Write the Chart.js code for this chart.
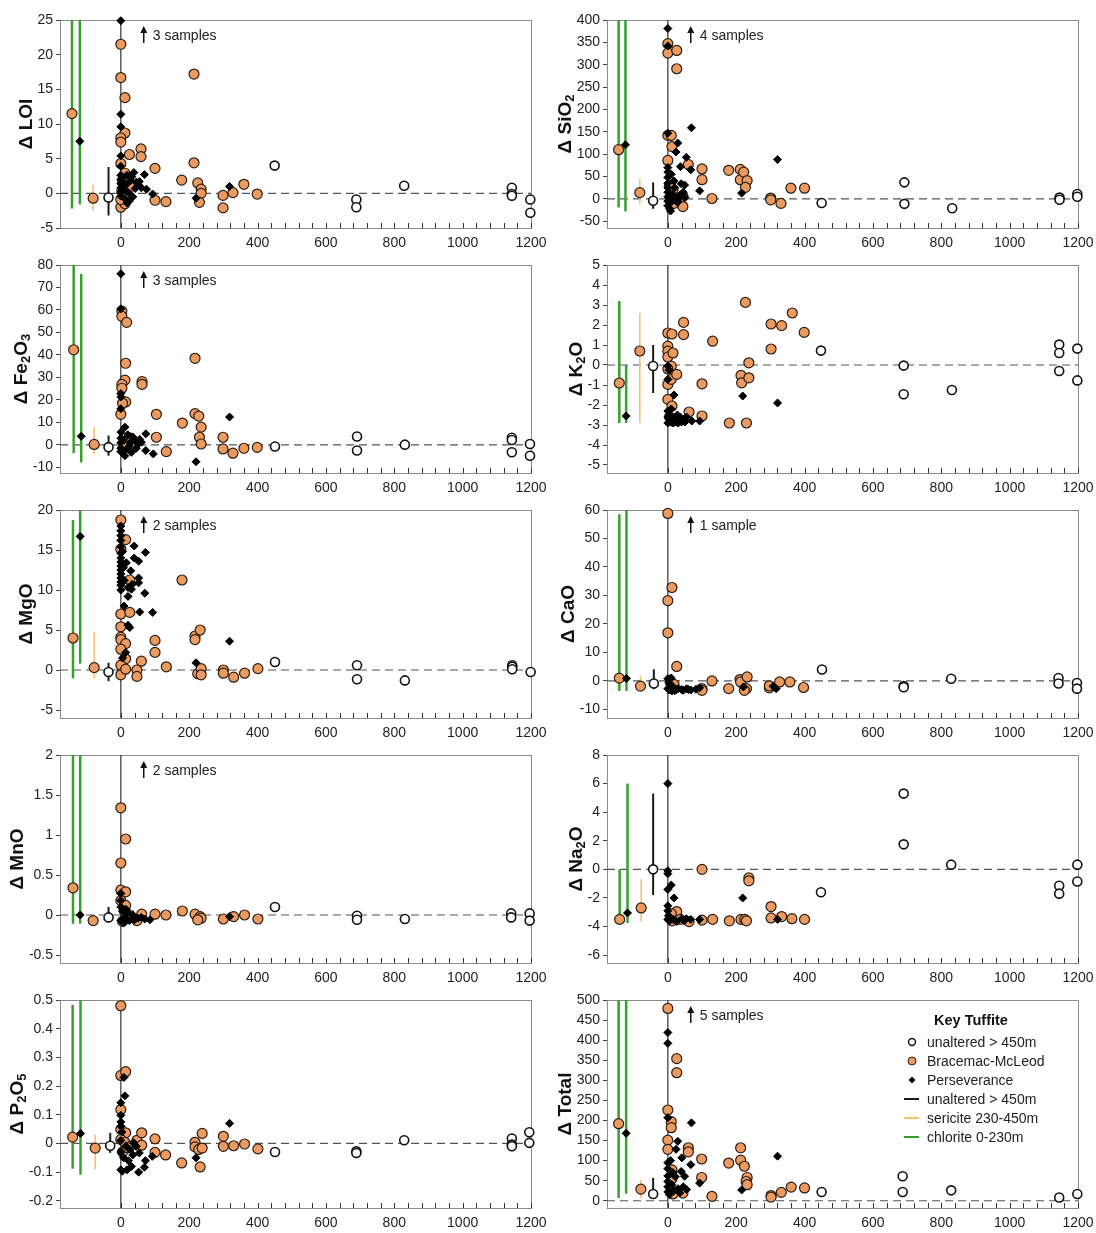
<!DOCTYPE html>
<html>
<head>
<meta charset="utf-8">
<title>Mass change vs distance</title>
<script src="https://cdn.jsdelivr.net/npm/chart.js@4.4.1/dist/chart.umd.min.js"></script>
<style>
    body { margin: 0; background: #fff; }
    #figure { position: relative; width: 1096px; height: 1233px; }
    #figure canvas { position: absolute; }
</style>
</head>
<body>
<div id="figure"></div>
<script>
// Distance axis (m) shared by every panel
const distanceTicks = [0, 200, 400, 600, 800, 1000, 1200];
const distanceMin = -178;
const distanceMax = 1200;
const noteDistance = 67;

// ---- LOI ----
const loiTicks = [-5, 0, 5, 10, 15, 20, 25];
const loiUnaltered = [[-36, -0.6], [450, 4.0], [689, -0.9], [689, -2.0], [829, 1.1], [1144, 0.8], [1144, -0.1], [1144, -0.35], [1198, -0.9], [1198, -2.8]];
const loiBracemac = [[-143, 11.5], [-81, -0.7], [0, 21.5], [0, 16.7], [12, 13.8], [12, 8.7], [0, 8.0], [0, 7.4], [0, 4.3], [25, 5.6], [59, 6.4], [59, 5.3], [100, 3.6], [100, -1.0], [132, -1.2], [178, 1.9], [214, 17.2], [214, 4.4], [225, 1.5], [235, 0.6], [235, 0.0], [230, -1.3], [299, -0.3], [299, -2.1], [328, 0.1], [360, 1.3], [399, -0.1], [0, -2.0], [12, -1.5], [0, -0.9], [12, 2.9], [5, 1.8], [8, 0.8], [20, 2.2], [30, 1.0], [15, -0.3], [3, 0.3]];
const loiPerseverance = [[-120, 7.5], [0, 24.9], [0, 11.4], [0, 9.6], [0, 5.4], [0, 3.9], [0, 2.6], [0, 2.0], [0, 1.4], [0, 0.8], [0, 0.2], [0, -0.4], [5, 2.3], [8, 1.6], [10, 0.5], [15, 1.2], [18, 2.6], [22, 0.1], [25, -1.1], [28, 1.8], [32, 2.4], [38, 3.0], [42, 0.7], [45, 1.6], [50, 1.2], [54, 1.7], [60, 0.8], [69, 2.7], [75, 0.6], [93, -0.1], [220, -0.7], [318, 1.0], [12, -0.8], [35, -0.5], [18, -1.4]];
const loiRanges = { chlorite: [[-143, -2.2, 30], [-120, -1.6, 30]], sericite: [[-81, -2.5, 1.2]], unaltered: [[-36, -3.2, 3.8]] };

// ---- SiO2 ----
const sio2Ticks = [-50, 0, 50, 100, 150, 200, 250, 300, 350, 400];
const sio2Unaltered = [[-43, -4], [450, -9], [692, 37], [692, -11], [832, -21], [1146, 3], [1146, -2], [1198, 11], [1198, 5]];
const sio2Bracemac = [[-144, 110], [-82, 14], [0, 347], [0, 326], [26, 332], [26, 291], [0, 142], [10, 142], [12, 117], [0, 86], [60, 77], [100, 67], [100, 43], [178, 64], [212, 66], [212, 43], [222, 60], [232, 41], [227, 26], [301, 2], [301, -2], [331, -10], [360, 24], [400, 24], [129, 1], [44, -17], [44, 6], [15, 20], [10, -8], [18, -10], [5, 30]];
const sio2Perseverance = [[-124, 121], [0, 381], [0, 342], [69, 159], [29, 125], [24, 105], [54, 93], [321, 88], [37, 72], [67, 65], [39, 34], [49, 31], [93, 18], [216, 13], [0, 147], [0, 70], [0, 60], [0, 48], [0, 35], [0, 25], [0, 15], [0, 5], [0, -5], [0, -15], [5, -22], [8, -27], [12, -5], [15, 10], [20, 25], [25, -2], [30, 0], [35, 8], [45, 15], [50, 3], [18, 40], [10, 55], [28, -8]];
const sio2Ranges = { chlorite: [[-144, -19, 450], [-124, -28, 450]], sericite: [[-82, -11, 45]], unaltered: [[-43, -22, 37]] };

// ---- Fe2O3 ----
const fe2o3Ticks = [-10, 0, 10, 20, 30, 40, 50, 60, 70, 80];
const fe2o3Unaltered = [[-36, -1], [451, -0.7], [691, 3.7], [691, -2.5], [831, 0.1], [1144, 3.2], [1144, 2.2], [1144, -3.3], [1197, 0.4], [1197, -4.8]];
const fe2o3Bracemac = [[-138, 42.3], [-78, 0.2], [3, 59.5], [3, 57.2], [17, 54.5], [14, 36.3], [12, 28.8], [3, 26.9], [3, 25.2], [14, 19.1], [0, 13.6], [62, 28.1], [62, 26.9], [104, 13.6], [104, 3.4], [133, -3], [180, 9.7], [217, 13.9], [217, 38.5], [228, 12.8], [230, 3.4], [235, 7.9], [235, 0.4], [299, 3.4], [299, -1.8], [328, -3.7], [360, -1.5], [399, -1.1], [26, 3.1], [12, 1.6], [5, 18.5], [8, -1.0]];
const fe2o3Perseverance = [[-116, 3.8], [0, 76.1], [0, 60.5], [0, 22.8], [0, 21.3], [0, 16.1], [0, 5.7], [0, 3.0], [0, 1.0], [0, -1.5], [0, -3], [12, 7.9], [73, 4.9], [73, -2.5], [95, -4], [12, -4.8], [318, 12.4], [220, -7.5], [31, -3.3], [40, 2.0], [50, 0.3], [60, 1.2], [25, -0.5], [20, 4.5], [35, 3.5], [45, -1.5], [55, 2.5], [8, 2.2], [16, -2], [28, 1]];
const fe2o3Ranges = { chlorite: [[-138, -3.7, 90], [-116, -7.8, 76]], sericite: [[-78, -4, 8]], unaltered: [[-36, -4.8, 4.2]] };

// ---- K2O ----
const k2oTicks = [-5, -4, -3, -2, -1, 0, 1, 2, 3, 4, 5];
const k2oUnaltered = [[-43, -0.05], [448, 0.72], [690, -0.03], [690, -1.46], [831, -1.25], [1145, 1.02], [1145, 0.6], [1145, -0.3], [1198, 0.82], [1198, -0.77]];
const k2oBracemac = [[-142, -0.9], [-82, 0.7], [0, 1.6], [12, 1.55], [0, 0.94], [0, 0.69], [0, 0.4], [15, 0.6], [10, -0.06], [0, -0.2], [0, -0.97], [10, -0.72], [26, -0.47], [46, 2.13], [46, 1.52], [131, 1.19], [100, -0.94], [100, -2.55], [62, -2.35], [0, -1.72], [12, -2.05], [180, -2.9], [227, 3.13], [214, -0.52], [216, -0.89], [237, 0.11], [237, -0.64], [230, -2.9], [302, 2.05], [302, 0.8], [333, 1.97], [364, 2.6], [399, 1.63], [5, -2.6], [15, -2.8]];
const k2oPerseverance = [[-122, -2.55], [0, -0.05], [3, -0.25], [0, -0.72], [18, -1.5], [219, -1.55], [321, -1.9], [70, -2.8], [93, -2.8], [36, -2.6], [0, -2.3], [0, -2.6], [0, -2.9], [5, -2.5], [8, -2.85], [12, -2.7], [15, -2.9], [20, -2.6], [22, -2.85], [25, -2.75], [30, -2.9], [40, -2.85], [45, -2.7], [50, -2.85], [55, -2.6], [10, -2.2], [28, -2.5]];
const k2oRanges = { chlorite: [[-142, -2.9, 3.2], [-122, -2.9, 0]], sericite: [[-82, -2.9, 2.6]], unaltered: [[-43, -1.4, 1.0]] };

// ---- MgO ----
const mgoTicks = [-5, 0, 5, 10, 15, 20];
const mgoUnaltered = [[-36, -0.25], [451, 1.0], [691, 0.6], [691, -1.15], [831, -1.3], [1145, 0.6], [1145, 0.4], [1145, 0.1], [1199, -0.25]];
const mgoBracemac = [[-140, 4.0], [-78, 0.3], [0, 18.75], [14, 16.3], [0, 15.1], [0, 7.0], [0, 5.4], [0, 4.1], [0, 3.8], [14, 3.3], [0, 2.6], [14, 1.4], [0, 0.6], [0, -0.6], [14, 0.1], [26, 11.25], [26, 7.2], [60, 1.1], [47, 0], [47, -0.8], [100, 3.7], [100, 2.2], [133, 0.4], [179, 11.25], [217, 4.25], [217, 3.8], [232, 5.0], [225, -0.46], [235, 0.17], [235, -0.6], [300, 0], [300, -0.4], [330, -0.9], [362, -0.4], [401, 0.17]];
const mgoPerseverance = [[-119, 16.7], [0, 18.0], [0, 17.4], [0, 16.8], [0, 16.2], [0, 15.4], [0, 14.6], [0, 14.0], [0, 13.5], [0, 13.0], [0, 12.5], [0, 12.0], [0, 11.5], [0, 11.0], [0, 10.6], [0, 10.0], [39, 15.5], [72, 14.7], [39, 14.0], [52, 13.6], [29, 12.4], [52, 11.5], [52, 10.9], [33, 10.7], [21, 10.3], [31, 10.1], [21, 9.2], [70, 9.6], [9, 8.0], [21, 5.6], [26, 5.3], [55, 7.25], [93, 7.2], [318, 3.6], [220, 0.9], [14, 2.2], [5, 14.8], [8, 12.8], [10, 11.2], [16, 13.4], [5, 1.5]];
const mgoRanges = { chlorite: [[-140, -1.04, 18.75], [-119, 0.8, 25]], sericite: [[-78, -1.04, 4.8]], unaltered: [[-36, -1.4, 0.9]] };

// ---- CaO ----
const caoTicks = [-10, 0, 10, 20, 30, 40, 50, 60];
const caoUnaltered = [[-41, -0.9], [451, 4.0], [690, -1.75], [690, -2.2], [829, 0.8], [1143, 1.05], [1143, -0.9], [1197, -0.7], [1197, -2.7]];
const caoBracemac = [[-142, 1.0], [-80, -1.8], [0, 58.8], [12, 32.8], [0, 28.2], [0, 16.9], [26, 5.1], [129, 0], [211, 0.5], [213, -0.35], [232, 1.4], [178, -2.7], [230, -2.7], [224, -3.3], [297, -2.4], [297, -1.7], [327, -0.35], [357, -0.35], [397, -2.3], [100, -2.7], [100, -3.3], [10, -2.7], [8, -0.7], [18, -1.2]];
const caoPerseverance = [[-121, 0.9], [0, 0.8], [10, 1.05], [3, -0.5], [0, -2.7], [5, -3.2], [20, -3.4], [30, -2.7], [40, -3.0], [55, -2.7], [67, -3.2], [82, -2.9], [93, -2.4], [221, -2.1], [317, -2.7], [308, -1.9], [15, -2.0], [25, -3.0], [45, -3.3], [60, -3.0], [12, -3.5]];
const caoRanges = { chlorite: [[-142, -3.5, 58.5], [-121, -3.5, 70]], sericite: [[-80, -2.4, 1.7]], unaltered: [[-41, -2.9, 4.1]] };

// ---- MnO ----
const mnoTicks = [-0.5, 0, 0.5, 1, 1.5, 2];
const mnoUnaltered = [[-36, -0.03], [451, 0.1], [691, -0.01], [691, -0.06], [831, -0.05], [1142, 0.02], [1142, -0.03], [1196, 0.02], [1196, -0.07]];
const mnoBracemac = [[-140, 0.34], [-81, -0.07], [0, 1.34], [14, 0.95], [0, 0.65], [0, 0.31], [14, 0.29], [0, 0.18], [14, 0.12], [61, 0.01], [100, 0.01], [132, 0], [180, 0.05], [217, 0.01], [232, -0.02], [235, -0.04], [225, -0.06], [300, -0.05], [330, -0.02], [362, 0], [401, -0.05], [47, -0.07], [26, 0], [5, -0.08], [10, 0.05]];
const mnoPerseverance = [[-119, 0], [0, 0.27], [0, 0.18], [0, 0.1], [5, 0.05], [0, -0.07], [12, -0.03], [25, -0.07], [40, -0.06], [60, -0.03], [85, -0.06], [70, -0.05], [20, 0.03], [35, 0], [8, -0.1], [318, -0.02], [50, -0.04], [15, 0.07]];
const mnoRanges = { chlorite: [[-140, -0.11, 2.5], [-119, -0.11, 2.5]], sericite: [[-81, -0.09, -0.05]], unaltered: [[-36, -0.03, 0.1]] };

// ---- Na2O ----
const na2oTicks = [-6, -4, -2, 0, 2, 4, 6, 8];
const na2oUnaltered = [[-43, 0], [448, -1.6], [690, 5.3], [690, 1.75], [829, 0.33], [1145, -1.15], [1145, -1.7], [1198, 0.33], [1198, -0.85]];
const na2oBracemac = [[-141, -3.5], [-78, -2.7], [100, 0], [237, -0.6], [237, -0.8], [302, -2.6], [302, -3.4], [333, -3.3], [363, -3.45], [400, -3.5], [100, -3.55], [131, -3.5], [180, -3.6], [214, -3.5], [225, -3.5], [230, -3.6], [26, -2.95], [10, -3.1], [12, -3.6], [62, -3.65], [36, -3.5]];
const na2oPerseverance = [[-118, -3.05], [0, 6.0], [0, -0.1], [0, -0.3], [10, -1.1], [0, -1.4], [18, -2.0], [219, -2.0], [0, -2.55], [0, -2.9], [2, -3.25], [5, -3.6], [15, -3.5], [26, -3.65], [41, -3.45], [54, -3.45], [67, -3.5], [93, -3.5], [321, -3.5], [0, -3.5], [8, -3.4], [48, -3.6]];
const na2oRanges = { chlorite: [[-141, -3.5, 0], [-118, -3.75, 6.0]], sericite: [[-78, -3.65, -0.7]], unaltered: [[-43, -1.8, 5.3]] };

// ---- P2O5 ----
const p2o5Ticks = [-0.2, -0.1, 0, 0.1, 0.2, 0.3, 0.4, 0.5];
const p2o5Unaltered = [[-31, -0.008], [451, -0.03], [689, -0.027], [689, -0.033], [829, 0.011], [1144, 0.017], [1144, -0.004], [1144, -0.01], [1195, 0.039], [1195, 0.002]];
const p2o5Bracemac = [[-141, 0.022], [-75, -0.016], [0, 0.48], [0, 0.237], [14, 0.25], [0, 0.118], [0, 0.049], [14, 0.037], [0, 0.014], [12, 0.004], [28, -0.01], [47, 0.011], [61, 0.037], [61, -0.006], [100, 0.016], [100, -0.031], [131, -0.04], [178, -0.068], [217, 0.004], [217, -0.012], [228, -0.021], [232, -0.082], [238, 0.035], [238, -0.016], [300, 0.025], [300, -0.01], [330, -0.008], [362, -0.002], [401, -0.019], [5, -0.03], [20, -0.015]];
const p2o5Perseverance = [[-118, 0.035], [0, 0.142], [0, 0.098], [9, 0.23], [12, 0.166], [0, 0.075], [0, 0.06], [3, 0.04], [0, -0.092], [4, -0.097], [18, -0.092], [31, -0.08], [52, -0.1], [72, -0.06], [69, -0.083], [92, -0.045], [220, -0.05], [318, 0.07], [54, -0.033], [38, 0.002], [25, -0.02], [8, -0.05], [15, -0.01], [0, -0.03], [0, 0.01], [45, -0.01], [22, -0.06], [35, -0.04]];
const p2o5Ranges = { chlorite: [[-141, -0.088, 0.483], [-118, -0.109, 0.6]], sericite: [[-75, -0.091, 0.031]], unaltered: [[-31, -0.033, 0.037]] };

// ---- Total ----
const totalTicks = [0, 50, 100, 150, 200, 250, 300, 350, 400, 450, 500];
const totalUnaltered = [[-43, 17], [450, 22], [687, 61], [687, 22], [829, 26], [1145, 8], [1198, 17]];
const totalBracemac = [[-144, 192], [-79, 29], [0, 479], [0, 226], [26, 354], [26, 319], [10, 197], [10, 182], [0, 151], [0, 128], [12, 77], [12, 55], [10, 27], [15, 17], [44, 19], [60, 132], [60, 122], [99, 104], [99, 58], [129, 11], [178, 94], [213, 132], [213, 101], [224, 86], [232, 58], [229, 48], [232, 40], [302, 13], [302, 9], [332, 21], [361, 34], [400, 32]];
const totalPerseverance = [[-122, 168], [0, 419], [0, 392], [0, 207], [69, 194], [29, 148], [24, 128], [41, 107], [67, 90], [39, 73], [49, 61], [93, 44], [216, 27], [321, 111], [0, 95], [0, 80], [0, 62], [0, 48], [0, 35], [0, 22], [5, 15], [12, 40], [18, 25], [22, 60], [30, 30], [35, 20], [45, 35], [55, 28], [8, 100], [15, 70]];
const totalRanges = { chlorite: [[-144, 7, 600], [-122, 17.5, 600]], sericite: [[-79, 7, 52]], unaltered: [[-43, 10, 57]] };

// Legend entries for the key
const keyTitle = 'Key Tuffite';
const keyLabels = ['unaltered > 450m', 'Bracemac-McLeod', 'Perseverance', 'unaltered > 450m', 'sericite 230-450m', 'chlorite 0-230m'];

// Panels in reading order (left column, right column); '_n' marks a subscript digit
const panels = [
    { title: 'Δ LOI', yMin: -5, yMax: 25, yTicks: loiTicks, note: '3 samples', unaltered: loiUnaltered, bracemac: loiBracemac, perseverance: loiPerseverance, ranges: loiRanges },
    { title: 'Δ SiO_2', yMin: -65, yMax: 400, yTicks: sio2Ticks, note: '4 samples', unaltered: sio2Unaltered, bracemac: sio2Bracemac, perseverance: sio2Perseverance, ranges: sio2Ranges },
    { title: 'Δ Fe_2O_3', yMin: -12.5, yMax: 80, yTicks: fe2o3Ticks, note: '3 samples', unaltered: fe2o3Unaltered, bracemac: fe2o3Bracemac, perseverance: fe2o3Perseverance, ranges: fe2o3Ranges },
    { title: 'Δ K_2O', yMin: -5.4, yMax: 5, yTicks: k2oTicks, note: null, unaltered: k2oUnaltered, bracemac: k2oBracemac, perseverance: k2oPerseverance, ranges: k2oRanges },
    { title: 'Δ MgO', yMin: -6, yMax: 20, yTicks: mgoTicks, note: '2 samples', unaltered: mgoUnaltered, bracemac: mgoBracemac, perseverance: mgoPerseverance, ranges: mgoRanges },
    { title: 'Δ CaO', yMin: -13, yMax: 60, yTicks: caoTicks, note: '1 sample', unaltered: caoUnaltered, bracemac: caoBracemac, perseverance: caoPerseverance, ranges: caoRanges },
    { title: 'Δ MnO', yMin: -0.6, yMax: 2, yTicks: mnoTicks, note: '2 samples', unaltered: mnoUnaltered, bracemac: mnoBracemac, perseverance: mnoPerseverance, ranges: mnoRanges },
    { title: 'Δ Na_2O', yMin: -6.55, yMax: 8, yTicks: na2oTicks, note: null, unaltered: na2oUnaltered, bracemac: na2oBracemac, perseverance: na2oPerseverance, ranges: na2oRanges },
    { title: 'Δ P_2O_5', yMin: -0.225, yMax: 0.5, yTicks: p2o5Ticks, note: null, unaltered: p2o5Unaltered, bracemac: p2o5Bracemac, perseverance: p2o5Perseverance, ranges: p2o5Ranges },
    { title: 'Δ Total', yMin: -18, yMax: 500, yTicks: totalTicks, note: '5 samples', unaltered: totalUnaltered, bracemac: totalBracemac, perseverance: totalPerseverance, ranges: totalRanges, key: true }
];

const FONT = "'Liberation Sans', Arial, Helvetica, sans-serif";
const ORANGE = '#ec9b60';
const rangeColors = { chlorite: '#36a02e', sericite: '#f3c46e', unaltered: '#1a1a1a' };
const rangeWidths = { chlorite: 2.5, sericite: 1.6, unaltered: 2 };

Chart.defaults.font.family = FONT;
Chart.defaults.font.size = 14;
Chart.defaults.color = '#222';

const toPoints = list => list.map(([x, y]) => ({ x, y }));

function rangeDatasets(ranges) {
    const sets = [];
    Object.entries(ranges).forEach(([kind, list]) => {
        list.forEach(([x, lo, hi]) => {
            sets.push({
                type: 'line',
                data: [{ x, y: lo }, { x, y: hi }],
                borderColor: rangeColors[kind],
                borderWidth: rangeWidths[kind],
                pointRadius: 0,
                fill: false,
                clip: 0
            });
        });
    });
    return sets;
}

// Rotated axis title with subscript digits
function drawTitle(ctx, text, cx, cy) {
    const parts = [];
    text.split(/(_\d)/).forEach(p => {
        if (!p) return;
        if (p[0] === '_') parts.push({ t: p[1], sub: true });
        else parts.push({ t: p, sub: false });
    });
    const big = 'bold 19px ' + FONT;
    const small = 'bold 13px ' + FONT;
    let total = 0;
    parts.forEach(p => {
        ctx.font = p.sub ? small : big;
        p.w = ctx.measureText(p.t).width;
        total += p.w;
    });
    ctx.save();
    ctx.translate(cx, cy);
    ctx.rotate(-Math.PI / 2);
    ctx.fillStyle = '#111';
    ctx.textBaseline = 'middle';
    ctx.textAlign = 'left';
    let x = -total / 2;
    parts.forEach(p => {
        ctx.font = p.sub ? small : big;
        ctx.fillText(p.t, x, p.sub ? 5 : 0);
        x += p.w;
    });
    ctx.restore();
}

function drawKey(ctx) {
    ctx.save();
    ctx.fillStyle = '#111';
    ctx.font = 'bold 14.5px ' + FONT;
    ctx.textAlign = 'center';
    ctx.textBaseline = 'middle';
    ctx.fillText(keyTitle, 424, 41);

    ctx.font = '14px ' + FONT;
    ctx.textAlign = 'left';
    const mx = 365;
    keyLabels.forEach((label, i) => {
        const y = 62 + i * 19;
        ctx.lineWidth = 1.4;
        if (i === 0) {
            ctx.beginPath(); ctx.arc(mx, y, 3.5, 0, Math.PI * 2);
            ctx.fillStyle = '#fff'; ctx.fill(); ctx.strokeStyle = '#111'; ctx.stroke();
        } else if (i === 1) {
            ctx.beginPath(); ctx.arc(mx, y, 4, 0, Math.PI * 2);
            ctx.fillStyle = ORANGE; ctx.fill(); ctx.strokeStyle = '#2b1d12'; ctx.lineWidth = 1; ctx.stroke();
        } else if (i === 2) {
            ctx.beginPath();
            ctx.moveTo(mx, y - 3.5); ctx.lineTo(mx + 3.5, y); ctx.lineTo(mx, y + 3.5); ctx.lineTo(mx - 3.5, y);
            ctx.closePath(); ctx.fillStyle = '#000'; ctx.fill();
        } else {
            const kind = ['unaltered', 'sericite', 'chlorite'][i - 3];
            ctx.beginPath(); ctx.moveTo(mx - 8, y); ctx.lineTo(mx + 7, y);
            ctx.strokeStyle = rangeColors[kind]; ctx.lineWidth = 2; ctx.stroke();
        }
        ctx.fillStyle = '#222';
        ctx.fillText(label, 380, y + 1);
    });
    ctx.restore();
}

function makeDecor(panel) {
    return {
        id: 'panelDecor',
        beforeDatasetsDraw(chart) {
            const { ctx, chartArea: a, scales } = chart;
            const x0 = scales.x.getPixelForValue(0);
            const y0 = scales.y.getPixelForValue(0);
            ctx.save();
            // frame
            ctx.strokeStyle = '#8a8a8a';
            ctx.lineWidth = 1;
            ctx.strokeRect(a.left + 0.5, a.top + 0.5, a.right - a.left, a.bottom - a.top);
            // minor ticks along the distance axis
            ctx.strokeStyle = '#333';
            for (let v = 0; v <= distanceMax; v += 40) {
                const px = Math.round(scales.x.getPixelForValue(v)) + 0.5;
                ctx.beginPath(); ctx.moveTo(px, a.bottom); ctx.lineTo(px, a.bottom - 5); ctx.stroke();
            }
            // zero distance line
            ctx.strokeStyle = '#333';
            ctx.lineWidth = 1.2;
            ctx.beginPath(); ctx.moveTo(x0, a.top); ctx.lineTo(x0, a.bottom); ctx.stroke();
            // zero mass-change line
            if (y0 > a.top && y0 < a.bottom) {
                ctx.strokeStyle = '#555';
                ctx.setLineDash([8, 5]);
                ctx.beginPath(); ctx.moveTo(a.left, y0); ctx.lineTo(a.right, y0); ctx.stroke();
            }
            ctx.restore();
        },
        afterDraw(chart) {
            const { ctx, chartArea: a, scales } = chart;
            ctx.save();
            ctx.font = '14px ' + FONT;
            let widest = 0;
            panel.yTicks.forEach(v => { widest = Math.max(widest, ctx.measureText(String(v)).width); });
            ctx.restore();
            drawTitle(ctx, panel.title, a.left - 7 - widest - 11, (a.top + a.bottom) / 2);

            if (panel.note) {
                const ax = scales.x.getPixelForValue(noteDistance);
                ctx.save();
                ctx.strokeStyle = '#111';
                ctx.fillStyle = '#111';
                ctx.lineWidth = 1.5;
                ctx.beginPath(); ctx.moveTo(ax, a.top + 23); ctx.lineTo(ax, a.top + 11); ctx.stroke();
                ctx.beginPath();
                ctx.moveTo(ax, a.top + 6); ctx.lineTo(ax - 3.5, a.top + 13); ctx.lineTo(ax + 3.5, a.top + 13);
                ctx.closePath(); ctx.fill();
                ctx.font = '14px ' + FONT;
                ctx.fillStyle = '#222';
                ctx.textBaseline = 'middle';
                ctx.fillText(panel.note, ax + 9, a.top + 16);
                ctx.restore();
            }
            if (panel.key) drawKey(ctx);
        }
    };
}

const figure = document.getElementById('figure');

panels.forEach((panel, i) => {
    const canvas = document.createElement('canvas');
    canvas.width = 548;
    canvas.height = 250;
    canvas.style.left = (i % 2) * 547 + 'px';
    canvas.style.top = Math.floor(i / 2) * 245 + 'px';
    figure.appendChild(canvas);

    const datasets = [
        {
            label: 'Perseverance',
            data: toPoints(panel.perseverance),
            pointStyle: 'rectRot',
            pointRadius: 4,
            backgroundColor: '#000',
            borderColor: '#000',
            borderWidth: 1,
            clip: false
        },
        {
            label: 'Bracemac-McLeod',
            data: toPoints(panel.bracemac),
            pointStyle: 'circle',
            pointRadius: 5,
            backgroundColor: ORANGE,
            borderColor: '#2b1d12',
            borderWidth: 1.2,
            clip: false
        },
        {
            label: 'unaltered > 450m',
            data: toPoints(panel.unaltered),
            pointStyle: 'circle',
            pointRadius: 4.5,
            backgroundColor: '#fff',
            borderColor: '#111',
            borderWidth: 1.6,
            clip: false
        },
        ...rangeDatasets(panel.ranges)
    ];

    new Chart(canvas, {
        type: 'scatter',
        data: { datasets },
        options: {
            responsive: false,
            animation: false,
            events: [],
            layout: { padding: { top: 20, right: 17, left: 0, bottom: 0 } },
            plugins: {
                legend: { display: false },
                tooltip: { enabled: false }
            },
            scales: {
                x: {
                    type: 'linear',
                    min: distanceMin,
                    max: distanceMax,
                    afterBuildTicks: s => { s.ticks = distanceTicks.map(v => ({ value: v })); },
                    afterFit: s => { s.height = 22; s.paddingLeft = 0; s.paddingRight = 0; },
                    grid: { drawOnChartArea: false, drawTicks: false },
                    border: { color: '#777' },
                    ticks: { padding: 7, maxRotation: 0, autoSkip: false, callback: v => String(v) }
                },
                y: {
                    type: 'linear',
                    min: panel.yMin,
                    max: panel.yMax,
                    afterBuildTicks: s => { s.ticks = panel.yTicks.map(v => ({ value: v })); },
                    afterFit: s => { s.width = 60; s.paddingTop = 0; s.paddingBottom = 0; },
                    grid: { drawOnChartArea: false, tickLength: 4, color: '#444' },
                    border: { color: '#777' },
                    ticks: { padding: 3, autoSkip: false, callback: v => String(v) }
                }
            }
        },
        plugins: [makeDecor(panel)]
    });
});
</script>
</body>
</html>
